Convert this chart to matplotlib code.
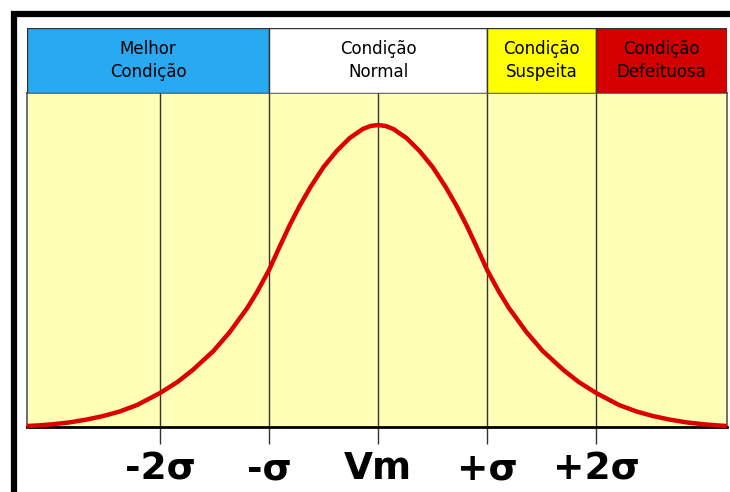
import matplotlib
matplotlib.use('Agg')
import matplotlib.pyplot as plt
from matplotlib.patches import Rectangle

# pontos (x em sigmas, altura em px acima da base)
curva_x = [-3.22, -3.10, -2.98, -2.83, -2.67, -2.52, -2.37, -2.21, -2.00, -1.84, -1.70,
           -1.51, -1.36, -1.20, -1.11, -1.00, -0.90, -0.81, -0.72, -0.62, -0.50, -0.38,
           -0.26, -0.14, -0.07, 0.00, 0.07, 0.14, 0.26, 0.38, 0.50, 0.62, 0.72, 0.81, 0.90,
           1.00, 1.11, 1.20, 1.36, 1.51, 1.70, 1.84, 2.00, 2.21, 2.37, 2.52, 2.67, 2.83,
           2.98, 3.10, 3.20]
curva_y = [1, 1.7, 2.8, 4.6, 7.5, 11, 15.5, 22, 34, 45, 57,
           76, 95, 119, 135, 157, 181, 202, 221, 240, 260, 276,
           289, 298, 301, 302, 301, 298, 289, 276, 260, 240, 221, 202, 181,
           157, 135, 119, 95, 76, 57, 45, 34, 22, 15.5, 11, 7.5, 4.6,
           2.8, 1.7, 1]

posicoes = [-2, -1, 0, 1, 2]
rotulos = ['-2σ', '-σ', 'Vm', '+σ', '+2σ']

faixas_ini = [-3.22, -1, 1, 2]
faixas_fim = [-1, 1, 2, 3.2]
faixas_txt = ['Melhor\nCondição', 'Condição\nNormal', 'Condição\nSuspeita', 'Condição\nDefeituosa']
faixas_cor = ['#29a9f2', '#ffffff', '#ffff00', '#d40000']

W, H = 730, 492
fig = plt.figure(figsize=(7.3, 4.92), dpi=100)
fig.patch.set_facecolor('white')

# moldura preta externa
fig.add_artist(Rectangle((14 / W, -0.2), 2, 1.2 - 14 / H, transform=fig.transFigure,
                         fill=False, edgecolor='black', linewidth=4.5))

# área principal
ax = fig.add_axes([27 / W, (H - 427) / H, 700 / W, 334 / H])
ax.set_facecolor('#ffffb8')
ax.set_xlim(-3.22, 3.2)
ax.set_ylim(0, 334)
for p in posicoes:
    ax.axvline(p, color='#333333', linewidth=1)
ax.plot(curva_x, curva_y, color='#dd0000', linewidth=3.2, solid_joinstyle='round',
        solid_capstyle='butt', clip_on=False, zorder=5)
ax.set_yticks([])
ax.set_xticks(posicoes)
ax.set_xticklabels(rotulos, fontsize=27, fontweight='bold', family='DejaVu Sans')
ax.tick_params(axis='x', length=12.5, width=1, color='#333333', pad=5)
for s in ['left', 'right', 'top']:
    ax.spines[s].set_color('#555555')
    ax.spines[s].set_linewidth(1.2)
ax.spines['bottom'].set_color('black')
ax.spines['bottom'].set_linewidth(2)

# cabeçalho
hx = fig.add_axes([27 / W, (H - 93) / H, 700 / W, 65 / H])
hx.set_xlim(-3.22, 3.2)
hx.set_ylim(0, 1)
hx.axis('off')
for a, b, t, c in zip(faixas_ini, faixas_fim, faixas_txt, faixas_cor):
    hx.add_patch(Rectangle((a, 0), b - a, 1, facecolor=c, edgecolor='#333333', linewidth=1))
    hx.text((a + b) / 2, 0.5, t, ha='center', va='center', fontsize=12,
            linespacing=1.3, color='black')

fig.savefig('out.png', dpi=100)
